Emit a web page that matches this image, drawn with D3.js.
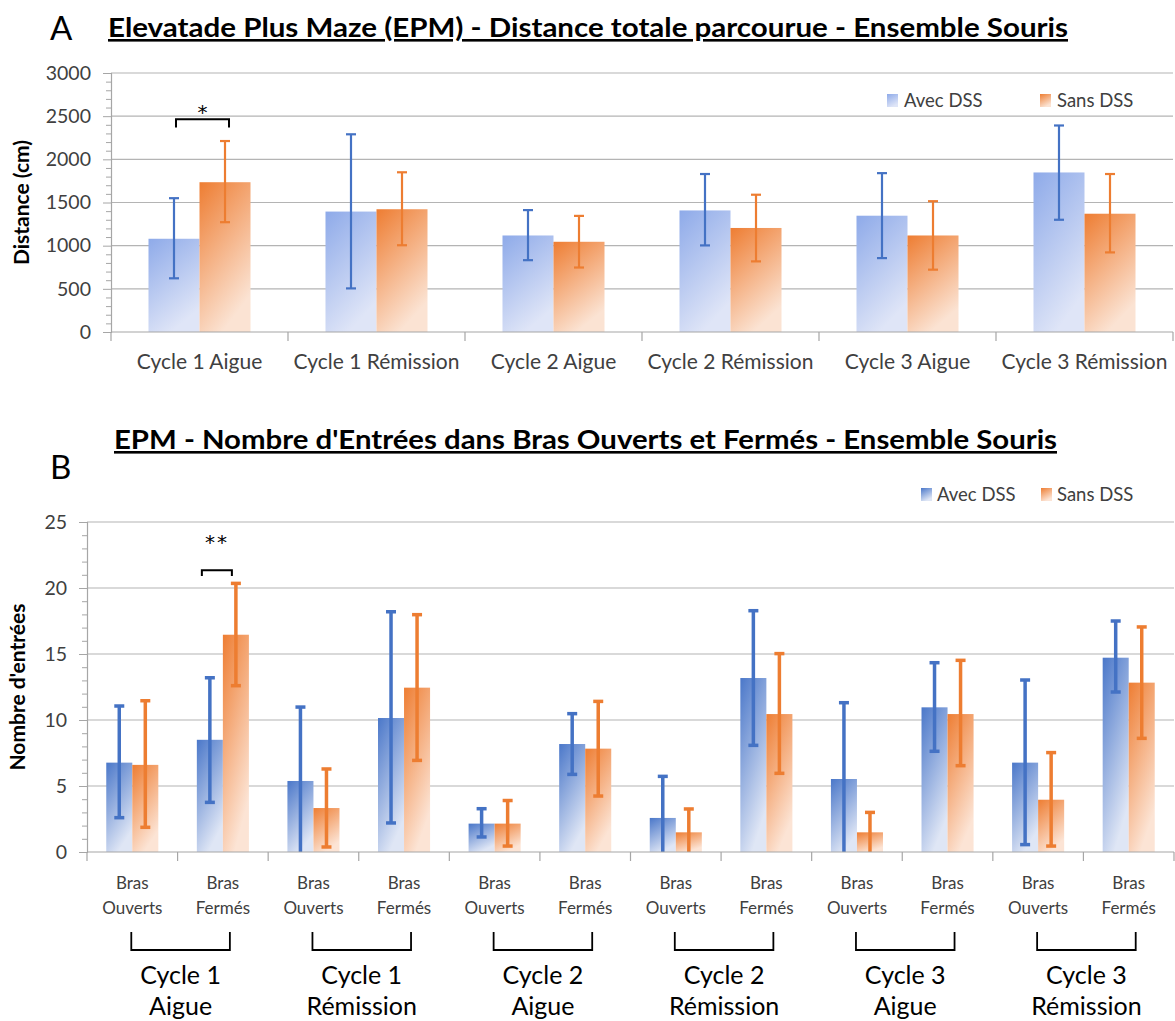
<!DOCTYPE html>
<html><head><meta charset="utf-8">
<script src="https://cdn.jsdelivr.net/npm/d3@7"></script>
<style>body{margin:0;background:#fff}svg{display:block}</style>
</head><body>
<svg id="c" width="1175" height="1021"></svg>
<script>
// ---------- DATA: chart A ----------
const topCategories = ["Cycle 1 Aigue","Cycle 1 Rémission","Cycle 2 Aigue","Cycle 2 Rémission","Cycle 3 Aigue","Cycle 3 Rémission"];
const topAvec     = [1080, 1395, 1118, 1408, 1347, 1848];
const topAvecLow  = [622, 505, 832, 1003, 856, 1300];
const topAvecHigh = [1550, 2290, 1412, 1830, 1840, 2392];
const topSans     = [1735, 1422, 1045, 1205, 1118, 1370];
const topSansLow  = [1272, 1005, 747, 818, 722, 922];
const topSansHigh = [2212, 1850, 1345, 1590, 1515, 1830];
const topTicks    = [0, 500, 1000, 1500, 2000, 2500, 3000];

// ---------- DATA: chart B ----------
const botArms     = ["Ouverts","Fermés","Ouverts","Fermés","Ouverts","Fermés","Ouverts","Fermés","Ouverts","Fermés","Ouverts","Fermés"];
const botAvec     = [6.77, 8.5, 5.38, 10.15, 2.15, 8.18, 2.58, 13.18, 5.53, 10.96, 6.77, 14.72];
const botAvecLow  = [2.6, 3.76, 0, 2.2, 1.14, 5.88, 0, 8.08, 0, 7.63, 0.56, 12.12];
const botAvecHigh = [11.06, 13.2, 10.98, 18.2, 3.28, 10.48, 5.73, 18.28, 11.31, 14.34, 13.03, 17.5];
const botSans     = [6.6, 16.46, 3.33, 12.45, 2.15, 7.83, 1.49, 10.45, 1.49, 10.45, 3.96, 12.83];
const botSansLow  = [1.87, 12.6, 0.38, 6.94, 0.45, 4.24, 0, 5.96, 0, 6.54, 0.45, 8.61];
const botSansHigh = [11.46, 20.35, 6.29, 17.98, 3.9, 11.41, 3.26, 15.03, 3.0, 14.52, 7.53, 17.05];
const botTicks    = [0, 5, 10, 15, 20, 25];
const cycleGroups = [["Cycle 1","Aigue"],["Cycle 1","Rémission"],["Cycle 2","Aigue"],["Cycle 2","Rémission"],["Cycle 3","Aigue"],["Cycle 3","Rémission"]];
const seriesNames = ["Avec DSS","Sans DSS"];

const FONT = "Lato,'Open Sans','Liberation Sans',sans-serif";
const STARFONT = "'DejaVu Sans',sans-serif";
const svg = d3.select("#c");
const defs = svg.append("defs");
function grad(id, c0, c1){
  const g = defs.append("linearGradient").attr("id", id)
    .attr("x1", 0).attr("y1", 0).attr("x2", 0.45).attr("y2", 1);
  g.append("stop").attr("offset", "0%").attr("stop-color", c0);
  g.append("stop").attr("offset", "100%").attr("stop-color", c1);
}
grad("gA_blue", "#8eaae9", "#dfe5f7");
grad("gA_orange", "#ee7d32", "#fbe3d3");
grad("gB_blue", "#4a77c9", "#dfe6f5");
grad("gB_orange", "#ee7d32", "#fce4d5");

const GRID = "#b4b4b4", AXIS = "#a6a6a6", TXT = "#404040";
const BLUE = "#4472c4", ORANGE = "#ed7d31";

// ================= CHART A =================
(function(){
  const L = 111, R = 1173, Y0 = 332, Y1 = 73;
  const x0 = d3.scaleBand().domain(topCategories).range([L, R]).padding(0);
  const x1 = d3.scaleBand().domain(seriesNames).range([0, x0.bandwidth()]).paddingInner(0).paddingOuter(0.735);
  const y = d3.scaleLinear().domain([0, 3000]).range([Y0, Y1]);
  const g = svg.append("g");

  g.selectAll(".grid").data(topTicks.slice(1)).join("line")
    .attr("x1", L).attr("x2", R).attr("y1", d => y(d)).attr("y2", d => y(d))
    .attr("stroke", GRID).attr("stroke-width", 1.2);

  const minor = d3.range(0, 3001, 100).filter(v => v % 500 !== 0);
  const ax = g.append("g").attr("transform", `translate(${L},0)`)
    .call(d3.axisLeft(y).tickValues(minor).tickSize(5).tickFormat(""));
  ax.select(".domain").remove();
  ax.selectAll("line").attr("stroke", AXIS);
  const ay = g.append("g").attr("transform", `translate(${L},0)`)
    .call(d3.axisLeft(y).tickValues(topTicks).tickSize(8).tickPadding(12).tickFormat(d3.format("d")));
  ay.select(".domain").attr("stroke", AXIS).attr("stroke-width", 1.2);
  ay.selectAll("line").attr("stroke", AXIS);
  ay.selectAll("text").attr("font-family", FONT).attr("font-size", 19.5).attr("fill", TXT);

  const rows = topCategories.map((c, i) => ({c, vals: [
    {s: "Avec DSS", v: topAvec[i], lo: topAvecLow[i], hi: topAvecHigh[i], fill: "url(#gA_blue)", col: BLUE},
    {s: "Sans DSS", v: topSans[i], lo: topSansLow[i], hi: topSansHigh[i], fill: "url(#gA_orange)", col: ORANGE}]}));
  const grp = g.selectAll(".grp").data(rows).join("g").attr("transform", d => `translate(${x0(d.c)},0)`);
  grp.selectAll("rect").data(d => d.vals).join("rect")
    .attr("x", d => x1(d.s)).attr("width", x1.bandwidth())
    .attr("y", d => y(d.v)).attr("height", d => Y0 - y(d.v)).attr("fill", d => d.fill);
  const eb = grp.selectAll(".eb").data(d => d.vals).join("g");
  eb.append("line").attr("x1", d => x1(d.s) + x1.bandwidth()/2).attr("x2", d => x1(d.s) + x1.bandwidth()/2)
    .attr("y1", d => y(d.lo)).attr("y2", d => y(d.hi)).attr("stroke", d => d.col).attr("stroke-width", 2.2);
  ["lo","hi"].forEach(k => eb.append("line")
    .attr("x1", d => x1(d.s) + x1.bandwidth()/2 - 5).attr("x2", d => x1(d.s) + x1.bandwidth()/2 + 5)
    .attr("y1", d => y(d[k])).attr("y2", d => y(d[k])).attr("stroke", d => d.col).attr("stroke-width", 2.2));

  g.append("line").attr("x1", L).attr("x2", R).attr("y1", Y0).attr("y2", Y0).attr("stroke", AXIS).attr("stroke-width", 1.2);
  const bounds = topCategories.map(c => x0(c)).concat([R]);
  g.selectAll(".xt").data(bounds).join("line").attr("x1", d => d).attr("x2", d => d)
    .attr("y1", Y0).attr("y2", Y0 + 9).attr("stroke", AXIS).attr("stroke-width", 1.2);
  g.selectAll(".xl").data(topCategories).join("text")
    .attr("x", d => x0(d) + x0.bandwidth()/2).attr("y", 369).attr("text-anchor", "middle")
    .attr("font-family", FONT).attr("font-size", 21).attr("fill", TXT).text(d => d);

  svg.append("text").attr("transform", `translate(29,${(Y0+Y1)/2}) rotate(-90)`)
    .attr("text-anchor", "middle").attr("font-family", FONT).attr("font-weight", "bold")
    .attr("font-size", 21).attr("fill", "#000").text("Distance (cm)");

  const bx1 = x0(topCategories[0]) + x1("Avec DSS") + x1.bandwidth()/2 + 2;
  const bx2 = x0(topCategories[0]) + x1("Sans DSS") + x1.bandwidth()/2 + 4;
  g.append("path").attr("d", `M${bx1},${y(2370)}V${y(2465)}H${bx2}V${y(2370)}`)
    .attr("fill", "none").attr("stroke", "#000").attr("stroke-width", 2);
  g.append("text").attr("x", (bx1+bx2)/2).attr("y", y(2470)).attr("text-anchor", "middle")
    .attr("font-family", STARFONT).attr("font-size", 20).text("*");

  const lg = [{s:"Avec DSS", f:"url(#gA_blue)", x:887}, {s:"Sans DSS", f:"url(#gA_orange)", x:1040}];
  lg.forEach(d => {
    svg.append("rect").attr("x", d.x).attr("y", 94).attr("width", 11).attr("height", 13).attr("fill", d.f);
    svg.append("text").attr("x", d.x + 17).attr("y", 107).attr("font-family", FONT).attr("font-size", 18.5).attr("fill", TXT).text(d.s);
  });

  svg.append("text").attr("x", 50).attr("y", 40).attr("font-family", FONT).attr("font-size", 33).attr("fill", "#000").text("A");
  svg.append("text").attr("x", 108).attr("y", 37).attr("font-family", FONT).attr("font-weight", "bold")
    .attr("font-size", 26).attr("text-decoration", "underline").attr("textLength", 960).attr("lengthAdjust", "spacingAndGlyphs")
    .text("Elevatade Plus Maze (EPM) - Distance totale parcourue - Ensemble Souris");
})();

// ================= CHART B =================
(function(){
  const L = 87, R = 1174, Y0 = 852, Y1 = 522;
  const idx = botArms.map((d, i) => i);
  const x0 = d3.scaleBand().domain(idx).range([L, R]).padding(0);
  const x1 = d3.scaleBand().domain(seriesNames).range([0, x0.bandwidth()]).paddingInner(0).paddingOuter(0.74);
  const y = d3.scaleLinear().domain([0, 25]).range([Y0, Y1]);
  const g = svg.append("g");

  g.selectAll(".grid").data(botTicks.slice(1)).join("line")
    .attr("x1", L).attr("x2", R).attr("y1", d => y(d)).attr("y2", d => y(d))
    .attr("stroke", GRID).attr("stroke-width", 1.2);
  const minor = d3.range(0, 26, 1).filter(v => v % 5 !== 0);
  const ax = g.append("g").attr("transform", `translate(${L},0)`)
    .call(d3.axisLeft(y).tickValues(minor).tickSize(5).tickFormat(""));
  ax.select(".domain").remove();
  ax.selectAll("line").attr("stroke", AXIS);
  const ay = g.append("g").attr("transform", `translate(${L},0)`)
    .call(d3.axisLeft(y).tickValues(botTicks).tickSize(8).tickPadding(12));
  ay.select(".domain").attr("stroke", AXIS).attr("stroke-width", 1.2);
  ay.selectAll("line").attr("stroke", AXIS);
  ay.selectAll("text").attr("font-family", FONT).attr("font-size", 19.5).attr("fill", TXT);

  const rows = idx.map(i => ({i, vals: [
    {s: "Avec DSS", v: botAvec[i], lo: botAvecLow[i], hi: botAvecHigh[i], fill: "url(#gB_blue)", col: BLUE},
    {s: "Sans DSS", v: botSans[i], lo: botSansLow[i], hi: botSansHigh[i], fill: "url(#gB_orange)", col: ORANGE}]}));
  const grp = g.selectAll(".grp").data(rows).join("g").attr("transform", d => `translate(${x0(d.i)},0)`);
  grp.selectAll("rect").data(d => d.vals).join("rect")
    .attr("x", d => x1(d.s)).attr("width", x1.bandwidth())
    .attr("y", d => y(d.v)).attr("height", d => Y0 - y(d.v)).attr("fill", d => d.fill);
  const eb = grp.selectAll(".eb").data(d => d.vals).join("g");
  eb.append("line").attr("x1", d => x1(d.s) + x1.bandwidth()/2).attr("x2", d => x1(d.s) + x1.bandwidth()/2)
    .attr("y1", d => y(d.lo)).attr("y2", d => y(d.hi)).attr("stroke", d => d.col).attr("stroke-width", 3.5);
  eb.append("line")
    .attr("x1", d => x1(d.s) + x1.bandwidth()/2 - 5).attr("x2", d => x1(d.s) + x1.bandwidth()/2 + 5)
    .attr("y1", d => y(d.hi)).attr("y2", d => y(d.hi)).attr("stroke", d => d.col).attr("stroke-width", 3.5);
  eb.filter(d => d.lo > 0).append("line")
    .attr("x1", d => x1(d.s) + x1.bandwidth()/2 - 5).attr("x2", d => x1(d.s) + x1.bandwidth()/2 + 5)
    .attr("y1", d => y(d.lo)).attr("y2", d => y(d.lo)).attr("stroke", d => d.col).attr("stroke-width", 3.5);

  g.append("line").attr("x1", L).attr("x2", R).attr("y1", Y0).attr("y2", Y0).attr("stroke", AXIS).attr("stroke-width", 1.2);
  const bounds = idx.map(i => x0(i)).concat([R]);
  g.selectAll(".xt").data(bounds).join("line").attr("x1", d => d).attr("x2", d => d)
    .attr("y1", Y0).attr("y2", Y0 + 9).attr("stroke", AXIS).attr("stroke-width", 1.2);
  const xl = g.selectAll(".xl").data(idx).join("text")
    .attr("x", i => x0(i) + x0.bandwidth()/2).attr("text-anchor", "middle")
    .attr("font-family", FONT).attr("font-size", 17).attr("fill", TXT);
  xl.append("tspan").attr("x", i => x0(i) + x0.bandwidth()/2).attr("y", 889).text("Bras");
  xl.append("tspan").attr("x", i => x0(i) + x0.bandwidth()/2).attr("y", 914).text(i => botArms[i]);

  cycleGroups.forEach((cg, k) => {
    const a = x0(2*k) + x0.bandwidth()/2 - 1;
    const b = x0(2*k+1) + x0.bandwidth()/2 + 7;
    g.append("path").attr("d", `M${a},932V950H${b}V932`).attr("fill", "none").attr("stroke", "#000").attr("stroke-width", 1.8);
    const t = g.append("text").attr("text-anchor", "middle").attr("font-family", FONT).attr("font-size", 25).attr("fill", "#000");
    t.append("tspan").attr("x", (a+b)/2).attr("y", 984).text(cg[0]);
    t.append("tspan").attr("x", (a+b)/2).attr("y", 1015).text(cg[1]);
  });

  svg.append("text").attr("transform", `translate(25,${(Y0+Y1)/2}) rotate(-90)`)
    .attr("text-anchor", "middle").attr("font-family", FONT).attr("font-weight", "bold")
    .attr("font-size", 21).attr("fill", "#000").text("Nombre d'entrées");

  const cx = x0(1);
  const bx1 = cx + x1("Avec DSS") + x1.bandwidth()/2 - 8;
  const bx2 = cx + x1("Sans DSS") + x1.bandwidth()/2 - 4;
  g.append("path").attr("d", `M${bx1},${y(20.9)}V${y(21.35)}H${bx2}V${y(20.9)}`)
    .attr("fill", "none").attr("stroke", "#000").attr("stroke-width", 2);
  g.append("text").attr("x", (bx1+bx2)/2).attr("y", y(22.95)).attr("text-anchor", "middle")
    .attr("font-family", STARFONT).attr("font-size", 20).attr("letter-spacing", 2).text("**");

  const lg = [{s:"Avec DSS", f:"url(#gB_blue)", x:921}, {s:"Sans DSS", f:"url(#gB_orange)", x:1041}];
  lg.forEach(d => {
    svg.append("rect").attr("x", d.x).attr("y", 488).attr("width", 11).attr("height", 13).attr("fill", d.f);
    svg.append("text").attr("x", d.x + 16).attr("y", 501).attr("font-family", FONT).attr("font-size", 18.5).attr("fill", TXT).text(d.s);
  });

  svg.append("text").attr("x", 50).attr("y", 479).attr("font-family", FONT).attr("font-size", 33).attr("fill", "#000").text("B");
  svg.append("text").attr("x", 114).attr("y", 449).attr("font-family", FONT).attr("font-weight", "bold")
    .attr("font-size", 26).attr("text-decoration", "underline").attr("textLength", 943).attr("lengthAdjust", "spacingAndGlyphs")
    .text("EPM - Nombre d'Entrées dans Bras Ouverts et Fermés - Ensemble Souris");
})();
</script>
</body></html>
